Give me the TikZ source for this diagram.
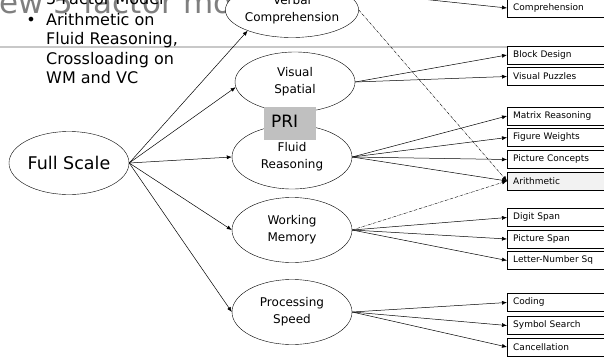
\documentclass[tikz,border=0pt]{standalone}
\usepackage{fontspec}
\setmainfont{DejaVu Sans}
\usetikzlibrary{arrows.meta,shapes.geometric}
\definecolor{prigray}{HTML}{C0C0C0}
\definecolor{titlegray}{HTML}{7F7F7F}
\definecolor{rulegray}{HTML}{C8C8C8}
\definecolor{arithfill}{HTML}{F2F2F2}
\begin{document}
\begin{tikzpicture}[x=1pt,y=-1pt,
  factor/.style={ellipse,draw,fill=white,minimum width=120pt,minimum height=63pt,inner sep=0pt,align=center,font=\fontsize{12}{17}\selectfont},
  testbox/.style={draw,fill=white,minimum height=18pt,text width=98pt,inner xsep=6pt,inner ysep=0pt,anchor=west,align=left,font=\fontsize{9}{11}\selectfont},
  bul/.style={anchor=base west,inner sep=0pt,font=\fontsize{16}{19.5}\selectfont},
  arr/.style={-{Latex[length=5pt,width=4pt]},line width=0.5pt},
  cross/.style={-{Latex[length=5pt,width=4pt]},densely dash dot,line width=0.4pt}
]
\useasboundingbox (0,0) rectangle (604,356);
\clip (0,0) rectangle (604,356);
\fill[white] (0,0) rectangle (604,356);

% slide title fragment and rule
\node[anchor=base west,inner sep=0pt,text=titlegray,font=\fontsize{31}{31}\selectfont] (title) at (-1,13) {ew 5 factor mo};
\coordinate (ruleL) at (0,47);
\coordinate (ruleR) at (604,47);
\draw[rulegray,line width=1.5pt] (ruleL) -- (ruleR);

% bullets
\node[anchor=base,inner sep=0pt,font=\fontsize{16}{19.5}\selectfont] (d1) at (31,5) {•};
\node[bul] (b1) at (46,5) {5 Factor Model};
\node[anchor=base,inner sep=0pt,font=\fontsize{16}{19.5}\selectfont] (d2) at (31,25) {•};
\node[bul] (b2) at (46,25) {Arithmetic on};
\node[bul] (b3) at (46,44.5) {Fluid Reasoning,};
\node[bul] (b4) at (46,64) {Crossloading on};
\node[bul] (b5) at (46,83.5) {WM and VC};

% factors
\node[ellipse,draw,fill=white,minimum width=120pt,minimum height=63pt,inner sep=0pt,font=\fontsize{17.5}{20}\selectfont] (FS) at (69,163) {Full Scale};
\node[factor,minimum height=55pt] (VC) at (292,10) {Verbal\\Comprehension};
\node[factor,minimum height=60pt] (VS) at (295,82) {Visual\\Spatial};
\node[factor,minimum height=64pt] (FR) at (292,157) {Fluid\\Reasoning};
\node[factor,minimum height=65pt] (WM) at (292,230) {Working\\Memory};
\node[factor,minimum height=65pt] (PS) at (292,312) {Processing\\Speed};

\node[fill=prigray,minimum width=52pt,minimum height=33pt,text width=38pt,inner xsep=7pt,inner ysep=0pt,align=left,font=\fontsize{17}{17}\selectfont] (PRI) at (290,123.5) {PRI\vphantom{g}\\[2pt]};

% subtests
\node[testbox] (comp) at (507,8) {Comprehension};
\node[testbox] (bd) at (507,55) {Block Design};
\node[testbox] (vp) at (507,76.5) {Visual Puzzles};
\node[testbox] (mr) at (507,116) {Matrix Reasoning};
\node[testbox] (fw) at (507,137.5) {Figure Weights};
\node[testbox] (pc) at (507,159.5) {Picture Concepts};
\node[testbox,fill=arithfill] (ar) at (507,181) {Arithmetic};
\node[testbox] (ds) at (507,217.5) {Digit Span};
\node[testbox] (psp) at (507,239) {Picture Span};
\node[testbox] (ln) at (507,260.5) {Letter-Number Sq};
\node[testbox] (cod) at (507,302.5) {Coding};
\node[testbox] (ss) at (507,325.5) {Symbol Search};
\node[testbox] (can) at (507,347) {Cancellation};

% connectors
\draw[arr] (FS.east) -- (VC.205);
\draw[arr] (FS.east) -- (VS.185);
\draw[arr] (FS.east) -- (FR.west);
\draw[arr] (FS.east) -- (WM.west);
\draw[arr] (FS.east) -- (PS.west);

\draw[arr] (VC.north east) -- (comp.west);
\draw[arr] (VS.east) -- (bd.west);
\draw[arr] (VS.east) -- (vp.west);
\draw[arr] (FR.east) -- (mr.west);
\draw[arr] (FR.east) -- (fw.west);
\draw[arr] (FR.east) -- (pc.west);
\draw[arr] (FR.east) -- (ar.west);
\draw[arr] (WM.east) -- (ds.west);
\draw[arr] (WM.east) -- (psp.west);
\draw[arr] (WM.east) -- (ln.west);
\draw[arr] (PS.east) -- (cod.west);
\draw[arr] (PS.east) -- (ss.west);
\draw[arr] (PS.east) -- (can.west);

\draw[cross] (VC.east) -- (ar.west);
\draw[cross] (WM.east) -- (ar.west);
\end{tikzpicture}
\end{document}
